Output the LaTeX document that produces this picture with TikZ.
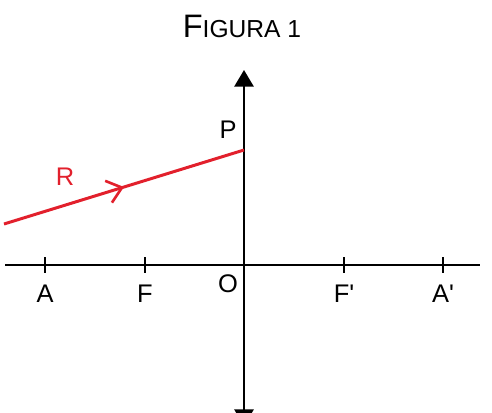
\documentclass[tikz,border=0pt]{standalone}
\usepackage{fontspec}
\setmainfont{Liberation Sans}[Ligatures=TeXOff]
\usetikzlibrary{arrows.meta,decorations.markings}
\definecolor{rayred}{RGB}{226,32,44}
\begin{document}
\begin{tikzpicture}[x=0.02cm, y=-0.02cm,
    axis/.style={line width=1.1pt},
    ray/.style={rayred, line width=1.7pt, postaction={decorate},
        decoration={markings, mark=at position 0.5 with {\arrow[line width=1.5pt]{Straight Barb[length=8pt,width=13pt]}}}},
    lbl/.style={font=\fontsize{14.5}{16}\selectfont, inner sep=0pt}]
    \useasboundingbox (0,0) rectangle (492,412);
    \node[inner sep=0pt] (title) at (242,26) {\fontsize{18.5}{20}\selectfont F\fontsize{14}{16}\selectfont IGURA 1};
    % axes
    \coordinate (O) at (244,265);
    \draw[axis, {Triangle[width=11pt,length=9.5pt]}-{Triangle[width=11pt,length=9.5pt]}] (244,70) -- (244,426);
    \draw[axis] (5,265) -- (480,265);
    \foreach \x/\name in {45/A, 145/F, 344/F', 443/A'}{
        \draw[axis] (\x,257) -- (\x,273);
        \node[lbl] at (\x,294) {\name};
    }
    \node[lbl] at (228,284) {O};
    % incident ray
    \coordinate (start) at (4,224);
    \coordinate (P) at (244,150);
    \draw[ray] (start) -- (P);
    \node[lbl] at (228,130) {P};
    \node[lbl, text=rayred] at (65,177) {R};
\end{tikzpicture}
\end{document}
